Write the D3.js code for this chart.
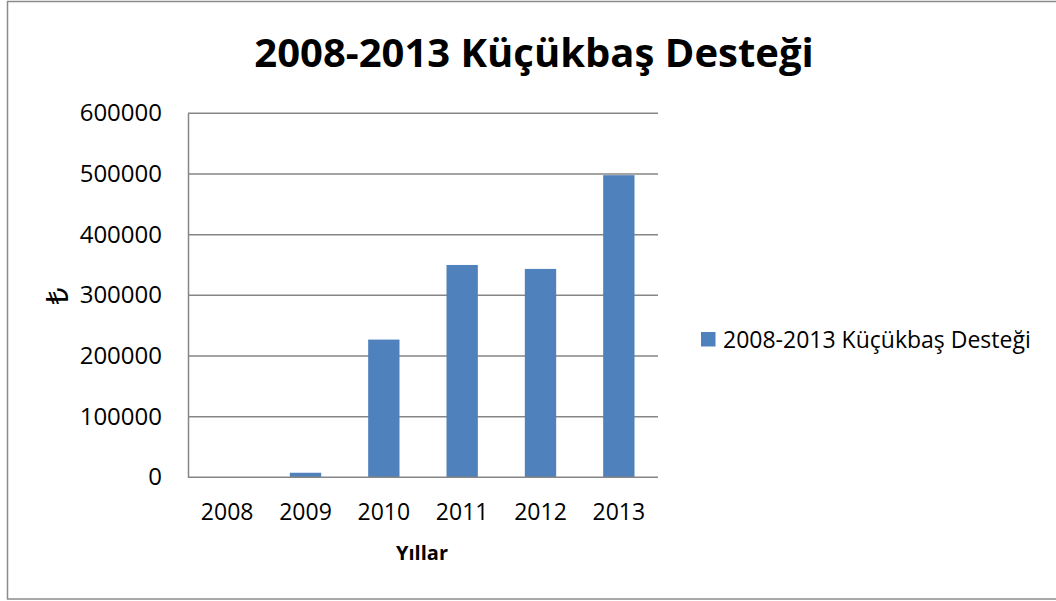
<!DOCTYPE html>
<html>
<head>
<meta charset="utf-8">
<script src="https://cdn.jsdelivr.net/npm/d3@7"></script>
<style>
  body { margin: 0; background: #fff; }
  svg { display: block; }
  text { font-family: "Open Sans", "Noto Sans", sans-serif; fill: #000; }
</style>
</head>
<body>
<svg id="chart" width="1056" height="601"></svg>
<script>
const categories = ["2008", "2009", "2010", "2011", "2012", "2013"];
const values = [0, 7500, 227000, 350000, 343500, 498000];
const yTicks = [0, 100000, 200000, 300000, 400000, 500000, 600000];
const seriesName = "2008-2013 Küçükbaş Desteği";
const titleText = "2008-2013 Küçükbaş Desteği";
const xTitle = "Yıllar";
const yTitle = "₺";

const svg = d3.select("#chart");
const m = { left: 188, right: 658, top: 113.3, bottom: 477.3 };

// outer frame
svg.append("rect")
  .attr("x", 7.5).attr("y", 1.5)
  .attr("width", 1056).attr("height", 597.5)
  .attr("fill", "none").attr("stroke", "#8c8c8c").attr("stroke-width", 1.5);

const x = d3.scaleBand().domain(categories).range([m.left, m.right])
  .paddingInner(0.6).paddingOuter(0.3);
const y = d3.scaleLinear().domain([0, 600000]).range([m.bottom, m.top]);

// gridlines
svg.append("g").selectAll("line").data(yTicks.filter(d => d > 0)).join("line")
  .attr("x1", m.left).attr("x2", m.right)
  .attr("y1", d => y(d)).attr("y2", d => y(d))
  .attr("stroke", "#868686").attr("stroke-width", 1.5);

// bars
svg.append("g").selectAll("rect").data(values).join("rect")
  .attr("x", (d, i) => x(categories[i]))
  .attr("width", x.bandwidth())
  .attr("y", d => y(d))
  .attr("height", d => y(0) - y(d))
  .attr("fill", "#4f81bd");

// y axis
const yAxis = d3.axisLeft(y).tickValues(yTicks).tickSize(0).tickPadding(26)
  .tickFormat(d => String(d));
const gy = svg.append("g").attr("transform", `translate(${m.left},0)`).call(yAxis);
gy.select(".domain").attr("stroke", "#868686").attr("stroke-width", 1.5);
gy.selectAll("text").style("font-size", "24px").attr("fill", "#000")
  .style("font-family", '"Open Sans", sans-serif');

// x axis
const xAxis = d3.axisBottom(x).tickSize(0).tickPadding(26);
const gx = svg.append("g").attr("transform", `translate(0,${m.bottom})`).call(xAxis);
gx.select(".domain").attr("stroke", "#868686").attr("stroke-width", 1.5)
  .attr("d", `M${m.left},0H${m.right}`);
gx.selectAll("text").style("font-size", "23px").attr("fill", "#000")
  .style("font-family", '"Open Sans", sans-serif');

// title
svg.append("text").attr("x", 534).attr("y", 67)
  .attr("text-anchor", "middle")
  .style("font-size", "40px").style("font-weight", "bold")
  .text(titleText);

// x title
svg.append("text").attr("x", 422).attr("y", 560)
  .attr("text-anchor", "middle")
  .style("font-size", "20px").style("font-weight", "bold")
  .text(xTitle);

// y title
svg.append("text")
  .attr("transform", "translate(57,296) rotate(-90)")
  .attr("text-anchor", "middle").attr("dy", "0.35em")
  .style("font-size", "30px")
  .text(yTitle);

// legend
const lg = svg.append("g").attr("transform", "translate(701,332)");
lg.append("rect").attr("width", 14.5).attr("height", 14.5).attr("fill", "#4f81bd");
lg.append("text").attr("x", 22).attr("y", 16)
  .style("font-size", "23px").text(seriesName);
</script>
</body>
</html>
